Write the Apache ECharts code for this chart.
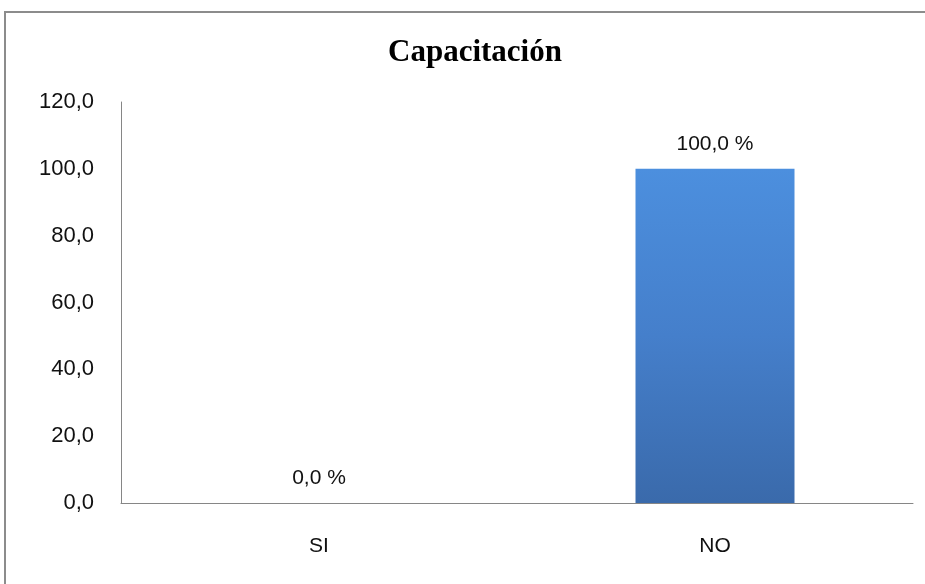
<!DOCTYPE html>
<html>
<head>
<meta charset="utf-8">
<script src="https://cdn.jsdelivr.net/npm/echarts@6/dist/echarts.min.js"></script>
<style>
html,body{margin:0;padding:0;background:#fff;}
#main{width:925px;height:584px;}
</style>
</head>
<body>
<div id="main"></div>
<script>
const titleText = 'Capacitación';
const categories = ['SI', 'NO'];
const values = [0.0, 100.0];
const yMin = 0, yMax = 120, yInterval = 20;

const fmt = v => v.toFixed(1).replace('.', ',');

const chart = echarts.init(document.getElementById('main'));
chart.setOption({
  animation: false,
  backgroundColor: '#ffffff',
  title: {
    text: titleText,
    left: 475,
    top: 37,
    padding: 0,
    textAlign: 'center',
    textStyle: { fontFamily: 'Liberation Serif', fontWeight: 'bold', fontSize: 31, color: '#000' }
  },
  grid: { left: 121, right: 12, top: 102, bottom: 81, containLabel: false },
  xAxis: {
    type: 'category',
    data: categories,
    axisLine: { lineStyle: { color: '#868686', width: 1 } },
    axisTick: { show: false },
    axisLabel: { margin: 33, fontFamily: 'Liberation Sans', fontSize: 21, color: '#111' }
  },
  yAxis: {
    type: 'value',
    min: yMin, max: yMax, interval: yInterval,
    axisLine: { show: true, lineStyle: { color: '#868686', width: 1 } },
    axisTick: { show: false },
    splitLine: { show: false },
    axisLabel: { margin: 27, fontFamily: 'Liberation Sans', fontSize: 22, color: '#111', formatter: v => fmt(v) }
  },
  series: [{
    type: 'bar',
    data: values,
    barWidth: 159,
    itemStyle: {
      color: new echarts.graphic.LinearGradient(0, 0, 0, 1, [
        { offset: 0, color: '#4c8fde' },
        { offset: 0.5, color: '#457fcb' },
        { offset: 1, color: '#3a6aab' }
      ]),
      borderWidth: 0
    },
    label: {
      show: true,
      position: 'top',
      distance: 14,
      fontFamily: 'Liberation Sans',
      fontSize: 21,
      color: '#111',
      formatter: p => fmt(p.value) + ' %'
    }
  }],
  graphic: [{
    type: 'rect',
    shape: { x: 5, y: 12, width: 940, height: 600 },
    style: { fill: null, stroke: '#8c8c8c', lineWidth: 2 },
    silent: true
  }]
});
</script>
</body>
</html>
